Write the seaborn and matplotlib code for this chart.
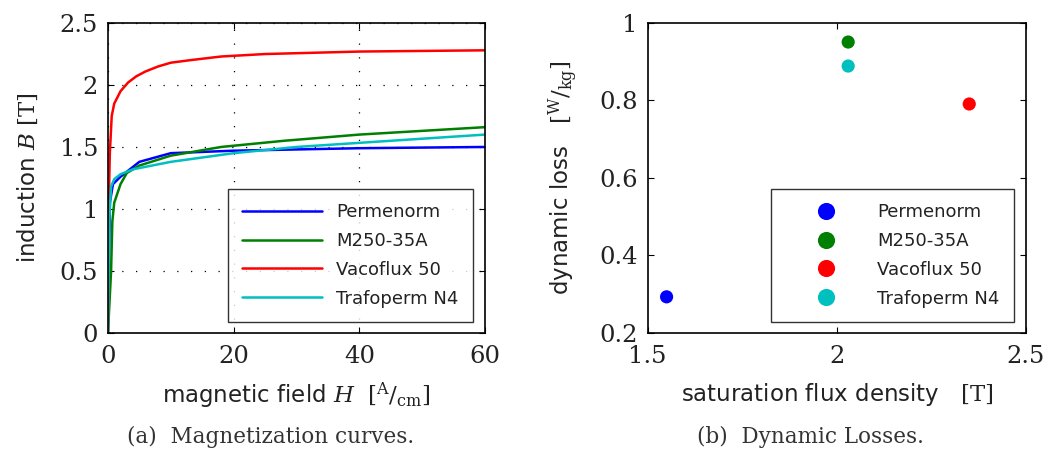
import numpy as np
import pandas as pd
import matplotlib
matplotlib.use("Agg")
import matplotlib.pyplot as plt
import seaborn as sns

materials = ["Permenorm", "M250-35A", "Vacoflux 50", "Trafoperm N4"]
colors = ["#0000ff", "#008000", "#ff0000", "#00bfbf"]

# magnetization curves (H in A/cm, B in T)
H_perm = [0, 0.3, 0.8, 2, 5, 10, 20, 40, 60]
B_perm = [0, 1.05, 1.2, 1.26, 1.38, 1.45, 1.47, 1.49, 1.50]
H_m250 = [0, 0.5, 0.7, 1, 2, 3, 5, 10, 18, 28, 40, 60]
B_m250 = [0, 0.5, 0.9, 1.05, 1.2, 1.29, 1.35, 1.43, 1.5, 1.55, 1.6, 1.66]
H_vaco = [0, 0.15, 0.3, 0.6, 1, 2, 3.2, 4.5, 6, 8, 10, 13, 18, 25, 40, 60]
B_vaco = [0, 1.1, 1.45, 1.75, 1.85, 1.95, 2.02, 2.07, 2.11, 2.15, 2.18, 2.2, 2.23,
          2.25, 2.27, 2.28]
H_traf = [0, 0.2, 0.5, 1, 2, 4, 10, 20, 30, 45, 60]
B_traf = [0, 0.9, 1.18, 1.24, 1.28, 1.32, 1.38, 1.45, 1.5, 1.55, 1.6]

# dynamic losses
b_sat = [1.55, 2.03, 2.35, 2.03]
loss = [0.293, 0.951, 0.791, 0.889]

curves = pd.concat([
    pd.DataFrame({"H": H_perm, "B": B_perm, "material": materials[0]}),
    pd.DataFrame({"H": H_m250, "B": B_m250, "material": materials[1]}),
    pd.DataFrame({"H": H_vaco, "B": B_vaco, "material": materials[2]}),
    pd.DataFrame({"H": H_traf, "B": B_traf, "material": materials[3]}),
], ignore_index=True)
losses = pd.DataFrame({"bsat": b_sat, "loss": loss, "material": materials})

sns.set_style("ticks")
plt.rcParams["font.family"] = ["DejaVu Sans"]
plt.rcParams["mathtext.fontset"] = "custom"
plt.rcParams["mathtext.rm"] = "DejaVu Serif"
plt.rcParams["mathtext.it"] = "DejaVu Serif:italic"
plt.rcParams["mathtext.bf"] = "DejaVu Serif:bold"
plt.rcParams["xtick.direction"] = "in"
plt.rcParams["ytick.direction"] = "in"
plt.rcParams["xtick.top"] = True
plt.rcParams["ytick.right"] = True

pal = dict(zip(materials, colors))
txt = "#222222"
fig = plt.figure(figsize=(10.48, 4.61), dpi=100)
ax1 = fig.add_axes([0.103, 0.278, 0.360, 0.672])
ax2 = fig.add_axes([0.618, 0.278, 0.361, 0.672])

sns.lineplot(data=curves, x="H", y="B", hue="material", palette=pal,
             estimator=None, sort=False, linewidth=1.8, ax=ax1)
ax1.set_xlim(0, 60)
ax1.set_ylim(0, 2.5)
ax1.set_xticks([0, 20, 40, 60])
ax1.set_yticks([0, 0.5, 1, 1.5, 2, 2.5])
ax1.set_yticklabels(["0", "0.5", "1", "1.5", "2", "2.5"])
ax1.grid(True, color="black", linestyle=(0, (1, 10)), linewidth=0.9)
ax1.set_xlabel(r"magnetic field $H\ \ [{}^{\mathrm{A}}/{}_{\mathrm{cm}}]$",
               fontsize=16.5, color=txt, labelpad=9)
ax1.set_ylabel(r"induction $B\ [\mathrm{T}]$", fontsize=16.5, color=txt, labelpad=14)
leg1 = ax1.legend(loc="lower right", bbox_to_anchor=(0.968, 0.035), fontsize=13,
                  frameon=True, fancybox=False, edgecolor="black",
                  handlelength=4.4, handletextpad=0.8, borderpad=0.8,
                  labelspacing=0.6, borderaxespad=0)
leg1.get_frame().set_linewidth(1.0)
for line in leg1.get_lines():
    line.set_linewidth(1.8)

sns.scatterplot(data=losses, x="bsat", y="loss", hue="material", palette=pal,
                s=90, edgecolor="none", ax=ax2)
ax2.set_xlim(1.5, 2.5)
ax2.set_ylim(0.2, 1.0)
ax2.set_xticks([1.5, 2, 2.5])
ax2.set_xticklabels(["1.5", "2", "2.5"])
ax2.set_yticks([0.2, 0.4, 0.6, 0.8, 1.0])
ax2.set_yticklabels(["0.2", "0.4", "0.6", "0.8", "1"])
ax2.set_xlabel(r"saturation flux density   $[\mathrm{T}]$", fontsize=16.5,
               color=txt, labelpad=9)
ax2.set_ylabel(r"dynamic loss   $[{}^{\mathrm{W}}/{}_{\mathrm{kg}}]$", fontsize=16.5,
               color=txt, labelpad=14)
leg2 = ax2.legend(loc="lower right", bbox_to_anchor=(0.968, 0.035), fontsize=13,
                  frameon=True, fancybox=False, edgecolor="black",
                  handlelength=4.5, handletextpad=0.6, borderpad=0.8,
                  labelspacing=0.6, markerscale=1.3, borderaxespad=0)
leg2.get_frame().set_linewidth(1.0)

for ax in (ax1, ax2):
    ax.tick_params(labelsize=17.5, length=4, width=0.8, color="black",
                   labelcolor=txt)
    ax.tick_params(axis="x", pad=9)
    ax.tick_params(axis="y", pad=7)
    for lab in ax.get_xticklabels() + ax.get_yticklabels():
        lab.set_family("DejaVu Serif")
    for sp in ax.spines.values():
        sp.set_visible(True)
        sp.set_linewidth(1.2)
        sp.set_color("black")
    for t in ax.get_legend().get_texts():
        t.set_color(txt)

fig.text(0.258, 0.038, "(a)  Magnetization curves.", ha="center", fontsize=15.5,
         family="DejaVu Serif", color="#333333")
fig.text(0.773, 0.038, "(b)  Dynamic Losses.", ha="center", fontsize=15.5,
         family="DejaVu Serif", color="#333333")

fig.savefig("out.png", dpi=100)
